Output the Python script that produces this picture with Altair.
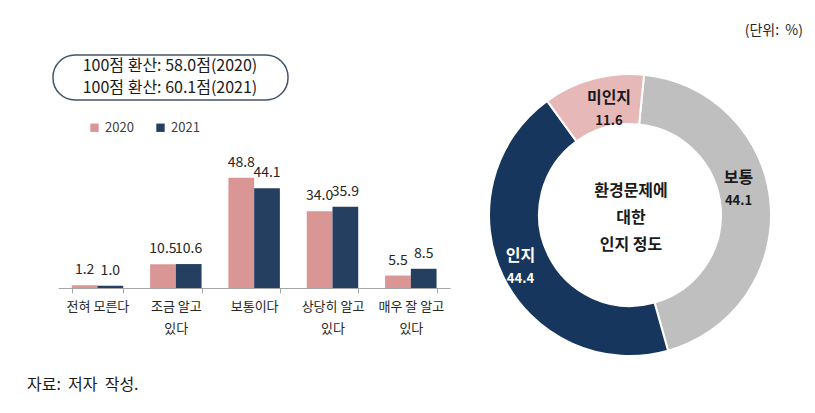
import math
import altair as alt
import pandas as pd

FONT = "Noto Sans CJK KR"

# ---------------- data ----------------
categories = ["전혀 모른다", "조금 알고\n있다", "보통이다", "상당히 알고\n있다", "매우 잘 알고\n있다"]
years = ["2020", "2021"]
values_2020 = [1.2, 10.5, 48.8, 34.0, 5.5]
values_2021 = [1.0, 10.6, 44.1, 35.9, 8.5]

donut_cats = ["보통", "인지", "미인지"]
donut_vals = [44.1, 44.4, 11.6]

score_lines = ["100점 환산: 58.0점(2020)", "100점 환산: 60.1점(2021)"]
center_title = "환경문제에\n대한\n인지 정도"
unit_text = "(단위:\u00a0 %)"
source_text = "자료:\u00a0 저자\u00a0 작성."

bar_colors = ["#DA9694", "#253F61"]
donut_colors = ["#BFBFBF", "#17365D", "#E6B9B8"]

# ---------------- tables ----------------
rows = []
for c, a, b in zip(categories, values_2020, values_2021):
    rows.append({"cat": c, "year": years[0], "value": a})
    rows.append({"cat": c, "year": years[1], "value": b})
bars_df = pd.DataFrame(rows)

donut_df = pd.DataFrame({"dcat": donut_cats, "dval": donut_vals,
                         "ord": list(range(len(donut_cats)))})

x_scale = alt.Scale(domain=categories, range=[50.3, 442], paddingInner=0.343, paddingOuter=0.1715)
y_scale = alt.Scale(domain=[0, 50], range=[280, 167])

x_enc = alt.X("cat:N", sort=categories, scale=x_scale,
              axis=alt.Axis(title=None, offset=-117, domainColor="#A6A6A6", tickColor="#A6A6A6",
                            tickSize=5, tickBand="extent", labelAngle=0,
                            labelExpr="split(datum.label, '\\n')", labelFontSize=13,
                            labelFont=FONT, labelColor="#262626", labelPadding=7,
                            labelLineHeight=22, grid=False, domainWidth=1))

bars = alt.Chart(bars_df).mark_bar().encode(
    x=x_enc,
    xOffset=alt.XOffset("year:N", sort=years),
    y=alt.Y("value:Q", scale=y_scale, axis=None),
    color=alt.Color("year:N", sort=years,
                    scale=alt.Scale(domain=years, range=bar_colors),
                    legend=alt.Legend(title=None, orient="none", legendX=80, legendY=113,
                                      direction="horizontal", symbolType="square", symbolSize=70,
                                      symbolStrokeWidth=0, labelFontSize=13, labelFont=FONT,
                                      labelColor="#404040", columnPadding=20, labelOffset=4)),
)

bar_labels = alt.Chart(bars_df).mark_text(baseline="alphabetic", dy=-11, fontSize=14,
                                          font=FONT, color="#262626").encode(
    x=alt.X("cat:N", sort=categories, scale=x_scale),
    xOffset=alt.XOffset("year:N", sort=years),
    y=alt.Y("value:Q", scale=y_scale),
    text=alt.Text("value:Q", format=".1f"),
)

# score box
box_df = pd.DataFrame({"t": ["\n".join(score_lines)]})
box = alt.Chart(box_df).mark_rect(cornerRadius=22, fill="white", stroke="#44546A",
                                  strokeWidth=1.5).encode(
    x=alt.value(45), x2=alt.value(280), y=alt.value(47), y2=alt.value(92))
box_text = alt.Chart(box_df).mark_text(lineBreak="\n", lineHeight=22, fontSize=16, font=FONT,
                                       color="#1a1a1a").encode(
    x=alt.value(162), y=alt.value(58), text="t:N")

# donut
theta0 = 0.1
theta_scale = alt.Scale(range=[theta0, theta0 + 2 * math.pi])
CX, CY = 622, 207
donut = alt.Chart(donut_df).mark_arc(radius=141, radius2=91, stroke="white", strokeWidth=2).encode(
    theta=alt.Theta("dval:Q", stack=True, scale=theta_scale),
    order=alt.Order("ord:Q"),
    color=alt.Color("dcat:N", scale=alt.Scale(domain=donut_cats, range=donut_colors), legend=None),
    x=alt.value(CX), y=alt.value(CY),
)

# label nudges (style only): (dx, dy) per slice, like Excel's placement
nudges = {"보통": (-6, -16), "인지": (-6, 2), "미인지": (9, 5)}
label_layers = []
for cat in donut_cats:
    ndx, ndy = nudges[cat]
    col = "white" if cat == "인지" else "#1a1a1a"
    base = alt.Chart(donut_df).transform_calculate(
    ).encode(
        theta=alt.Theta("dval:Q", stack=True, scale=theta_scale),
        order=alt.Order("ord:Q"),
        x=alt.value(CX), y=alt.value(CY),
    )
    names = alt.Chart(donut_df).mark_text(radius=115, dx=ndx, dy=ndy - 11, fontSize=16, font=FONT,
                                          fontWeight="bold", color=col).encode(
        theta=alt.Theta("dval:Q", stack=True, scale=theta_scale),
        order=alt.Order("ord:Q"),
        text="dcat:N",
        opacity=alt.condition(alt.datum.dcat == cat, alt.value(1), alt.value(0)),
        x=alt.value(CX), y=alt.value(CY),
    )
    nums = alt.Chart(donut_df).mark_text(radius=115, dx=ndx, dy=ndy + 12, fontSize=13, font=FONT,
                                         fontWeight="bold", color=col).encode(
        theta=alt.Theta("dval:Q", stack=True, scale=theta_scale),
        order=alt.Order("ord:Q"),
        text=alt.Text("dval:Q", format=".1f"),
        opacity=alt.condition(alt.datum.dcat == cat, alt.value(1), alt.value(0)),
        x=alt.value(CX), y=alt.value(CY),
    )
    label_layers += [names, nums]

center_df = pd.DataFrame({"t": [center_title]})
center = alt.Chart(center_df).mark_text(lineBreak="\n", lineHeight=27, fontSize=16, font=FONT,
                                        fontWeight="bold", color="#1a1a1a").encode(
    x=alt.value(623), y=alt.value(183), text="t:N")

unit_df = pd.DataFrame({"t": [unit_text]})
unit = alt.Chart(unit_df).mark_text(fontSize=14, font=FONT, color="#262626", align="right").encode(
    x=alt.value(795), y=alt.value(23), text="t:N")
src_df = pd.DataFrame({"t": [source_text]})
src = alt.Chart(src_df).mark_text(fontSize=16, font=FONT, color="#1a1a1a", align="left").encode(
    x=alt.value(19), y=alt.value(377), text="t:N")

chart = alt.layer(box, box_text, bars, bar_labels, donut, *label_layers, center,
                  unit, src).resolve_scale(color="independent").properties(
    width=799, height=397, autosize="none", padding=0,
).configure(background="white", view=alt.ViewConfig(stroke=None))

chart.save("out.html", embed_options={"renderer": "svg", "actions": False})
